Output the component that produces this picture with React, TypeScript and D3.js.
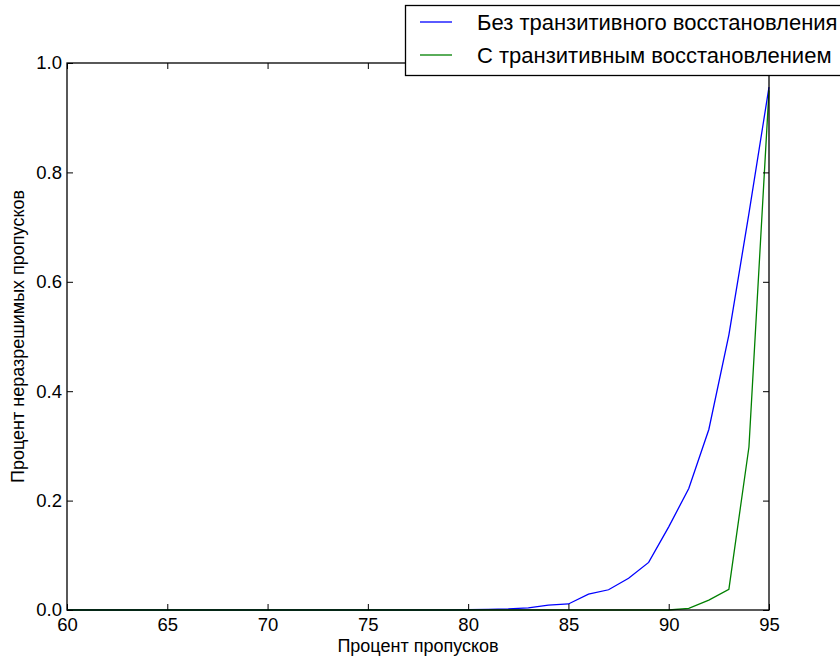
import React, { useEffect, useRef } from 'react';
import * as d3 from 'd3';

const percents = [60, 61, 62, 63, 64, 65, 66, 67, 68, 69, 70, 71, 72, 73, 74, 75, 76, 77, 78, 79, 80, 81, 82, 83, 84, 85, 86, 87, 88, 89, 90, 91, 92, 93, 94, 95];
const withoutTransitive = [0, 0, 0, 0, 0, 0, 0, 0, 0, 0, 0, 0, 0, 0, 0, 0, 0, 0, 0, 0, 0.0005, 0.001, 0.002, 0.004, 0.009, 0.011, 0.029, 0.037, 0.058, 0.087, 0.152, 0.222, 0.33, 0.503, 0.725, 0.956];
const withTransitive = [0, 0, 0, 0, 0, 0, 0, 0, 0, 0, 0, 0, 0, 0, 0, 0, 0, 0, 0, 0, 0, 0, 0, 0, 0, 0, 0, 0, 0, 0, 0, 0.003, 0.018, 0.038, 0.298, 0.95];
const xTicks = [60, 65, 70, 75, 80, 85, 90, 95];
const yTicks = [0, 0.2, 0.4, 0.6, 0.8, 1.0];
const seriesNames = ['Без транзитивного восстановления', 'С транзитивным восстановлением'];
const seriesColors = ['#0000ff', '#008000'];

export default function App() {
  const ref = useRef<SVGSVGElement>(null);

  useEffect(() => {
    const svg = d3.select(ref.current);
    svg.selectAll('*').remove();
    const font = '"Liberation Sans", Arial, sans-serif';
    const m = { left: 67, right: 769, top: 63, bottom: 610 };

    const x = d3.scaleLinear().domain([60, 95]).range([m.left, m.right]);
    const y = d3.scaleLinear().domain([0, 1]).range([m.bottom, m.top]);

    const line = d3.line<number>()
      .x((_, i) => x(percents[i]))
      .y(d => y(d));

    [withoutTransitive, withTransitive].forEach((vals, k) => {
      svg.append('path')
        .attr('d', line(vals))
        .attr('fill', 'none')
        .attr('stroke', seriesColors[k])
        .attr('stroke-width', 1.3);
    });

    // frame
    svg.append('rect')
      .attr('x', m.left).attr('y', m.top)
      .attr('width', m.right - m.left).attr('height', m.bottom - m.top)
      .attr('fill', 'none').attr('stroke', '#000').attr('stroke-width', 1.3);

    const tl = 6;
    const bottom = svg.append('g').attr('transform', `translate(0,${m.bottom})`)
      .call(d3.axisBottom(x).tickValues(xTicks).tickSize(-tl).tickPadding(5).tickFormat(d3.format('d')));
    const top = svg.append('g').attr('transform', `translate(0,${m.top})`)
      .call(d3.axisTop(x).tickValues(xTicks).tickSize(-tl).tickFormat(() => ''));
    const left = svg.append('g').attr('transform', `translate(${m.left},0)`)
      .call(d3.axisLeft(y).tickValues(yTicks).tickSize(-tl).tickPadding(5).tickFormat(d3.format('.1f')));
    const right = svg.append('g').attr('transform', `translate(${m.right},0)`)
      .call(d3.axisRight(y).tickValues(yTicks).tickSize(-tl).tickFormat(() => ''));

    [bottom, top, left, right].forEach(g => {
      g.select('.domain').remove();
      g.selectAll('line').attr('stroke', '#000').attr('stroke-width', 1);
      g.selectAll('text').attr('font-family', font).attr('font-size', 18.5).attr('fill', '#000');
    });
    bottom.selectAll('text').attr('y', 21).attr('dy', 0);

    svg.append('text')
      .attr('x', (m.left + m.right) / 2).attr('y', 652)
      .attr('text-anchor', 'middle')
      .attr('font-family', font).attr('font-size', 18)
      .text('Процент пропусков');

    svg.append('text')
      .attr('transform', `translate(24,${(m.top + m.bottom) / 2}) rotate(-90)`)
      .attr('text-anchor', 'middle')
      .attr('font-family', font).attr('font-size', 18)
      .text('Процент неразрешимых пропусков');

    // legend
    const lg = svg.append('g');
    lg.append('rect')
      .attr('x', 405.5).attr('y', 5.5).attr('width', 440).attr('height', 70)
      .attr('fill', '#fff').attr('stroke', '#000').attr('stroke-width', 1.3);
    seriesNames.forEach((name, k) => {
      const yy = 22 + k * 33;
      lg.append('line')
        .attr('x1', 420).attr('x2', 452).attr('y1', yy).attr('y2', yy)
        .attr('stroke', seriesColors[k]).attr('stroke-width', 1.3);
      lg.append('text')
        .attr('x', 477).attr('y', yy + 8)
        .attr('font-family', font).attr('font-size', 22)
        .text(name);
    });
  }, []);

  return (
    <svg ref={ref} width={840} height={662}
      style={{ position: 'absolute', left: 0, top: 0, background: '#fff' }} />
  );
}
